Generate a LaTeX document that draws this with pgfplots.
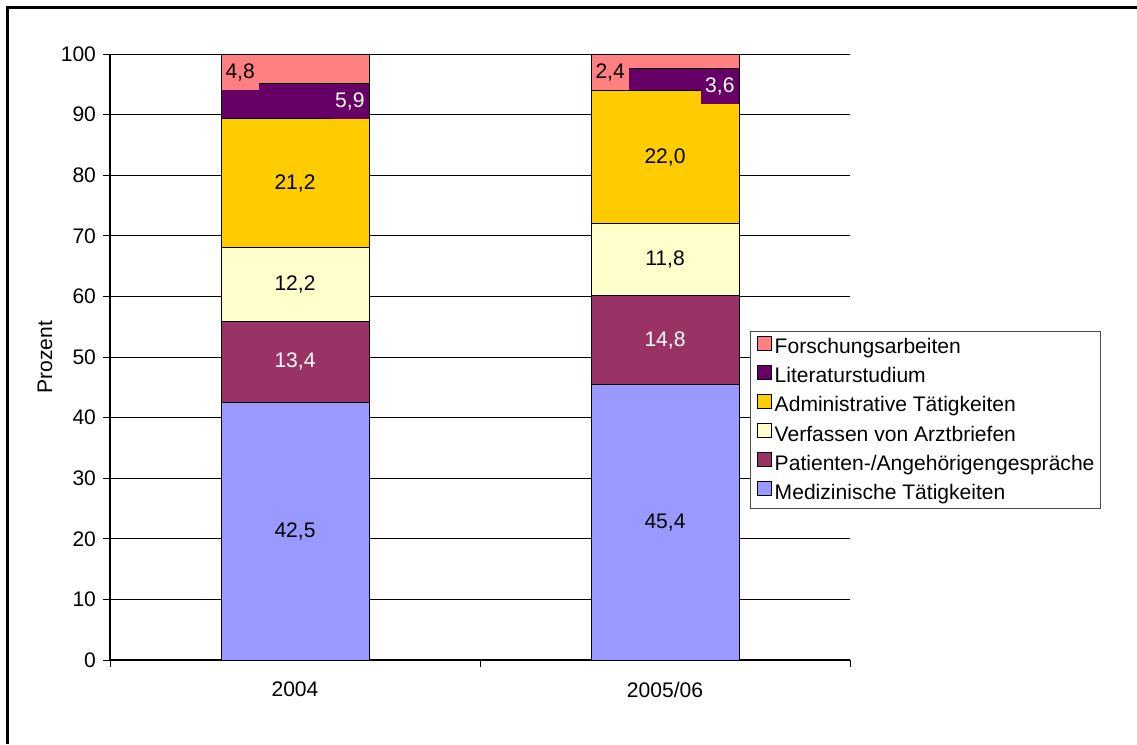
\documentclass[border=0pt]{standalone}
\usepackage{pgfplots}
\pgfplotsset{compat=1.18}
\usepackage{fontspec}
\setmainfont{Liberation Sans}

\definecolor{medcol}{HTML}{9999FF}
\definecolor{patcol}{HTML}{993366}
\definecolor{verfcol}{HTML}{FFFFCC}
\definecolor{admcol}{HTML}{FFCC00}
\definecolor{litcol}{HTML}{660066}
\definecolor{forcol}{HTML}{FF8080}

\newcommand{\chartfont}{\fontsize{15.8}{18}\selectfont}

\pgfplotsset{
  % label centred in its segment (stacked nodes sit at the segment centre)
  midlabel/.style={
    nodes near coords={\pgfplotspointmeta},
    point meta=explicit symbolic,
    every node near coord/.append style={anchor=center,
      font=\chartfont, text=#1},
  },
  % Excel style boxed label hanging from the top of the segment
  % (1 y unit = 4.545pt, so half a segment is rawy*2.2725pt)
  toplabel/.style n args={4}{
    nodes near coords={\pgfplotspointmeta},
    point meta=explicit symbolic,
    visualization depends on={\thisrow{y} \as \rawy},
    every node near coord/.append style={anchor=#1, xshift=#2,
      yshift=\rawy*2.2725pt,
      fill=#3, text=#4, font=\chartfont, inner xsep=3pt, inner ysep=0pt,
      minimum height=26.5pt},
  },
}

\begin{document}
\begin{tikzpicture}
\useasboundingbox (0,0) rectangle (852.75pt,-558pt);
\draw[line width=2.25pt] (5.6pt,-558pt) -- (5.6pt,-5.6pt) -- (852.75pt,-5.6pt);
\begin{axis}[
  at={(82.5pt,-495pt)}, anchor=south west,
  scale only axis, width=555pt, height=454.5pt,
  ybar stacked, bar width=0.4,
  xmin=-0.5, xmax=1.5, ymin=0, ymax=100,
  enlargelimits=false,
  xtick={-0.5,0.5,1.5}, xticklabels={,,},
  extra x ticks={0,1}, extra x tick labels={2004,2005/06},
  extra x tick style={major tick length=0pt},
  ytick={0,10,...,100},
  ymajorgrids, grid style={black, line width=0.75pt},
  axis x line=bottom, axis y line=left,
  axis line style={-, black, line width=1pt},
  tick align=outside, major tick length=5pt,
  tick style={black, line width=0.75pt},
  tick label style={font=\chartfont},
  /pgf/number format/assume math mode=true,
  yticklabel style={xshift=-2pt},
  xticklabel style={yshift=-13pt},
  ylabel={Prozent},
  every axis y label/.style={at={(axis description cs:-0.0878,0.5)},
    rotate=90, anchor=center, font=\chartfont},
  legend image code/.code={\draw[#1, draw=black, line width=0.6pt]
    (0pt,-1.5pt) rectangle (10.5pt,9pt);},
  reverse legend,
  legend style={at={(axis description cs:0.865,0.543)}, anchor=north west,
    draw=black!70, line width=0.75pt, font=\chartfont,
    inner xsep=4.5pt, inner ysep=3.5pt, row sep=5pt,
    nodes={inner sep=0pt, text height=11.5pt, text depth=3.5pt},
    cells={anchor=west},
    /tikz/every odd column/.append style={column sep=2.5pt}},
]
\addplot[fill=medcol, draw=black, line width=0.75pt, midlabel=black]
  table[x=x, y=y, meta=lab] {
x y lab
0 42.5 42,5
1 45.4 45,4
};
\addlegendentry{Medizinische Tätigkeiten}

\addplot[fill=patcol, draw=black, line width=0.75pt, midlabel=white]
  table[x=x, y=y, meta=lab] {
x y lab
0 13.4 13,4
1 14.8 14,8
};
\addlegendentry{Patienten-/Angehörigengespräche}

\addplot[fill=verfcol, draw=black, line width=0.75pt, midlabel=black]
  table[x=x, y=y, meta=lab] {
x y lab
0 12.2 12,2
1 11.8 11,8
};
\addlegendentry{Verfassen von Arztbriefen}

\addplot[fill=admcol, draw=black, line width=0.75pt, midlabel=black]
  table[x=x, y=y, meta=lab] {
x y lab
0 21.2 21,2
1 22.0 22,0
};
\addlegendentry{Administrative Tätigkeiten}

\addplot[fill=litcol, draw=black, line width=0.75pt,
  toplabel={north east}{55.5pt}{litcol}{white}]
  table[x=x, y=y, meta=lab] {
x y lab
0 5.9 5,9
1 3.6 3,6
};
\addlegendentry{Literaturstudium}

\addplot[fill=forcol, draw=black, line width=0.75pt,
  toplabel={north west}{-55.5pt}{forcol}{black}]
  table[x=x, y=y, meta=lab] {
x y lab
0 4.8 4,8
1 2.4 2,4
};
\addlegendentry{Forschungsarbeiten}
\end{axis}
\end{tikzpicture}
\end{document}
